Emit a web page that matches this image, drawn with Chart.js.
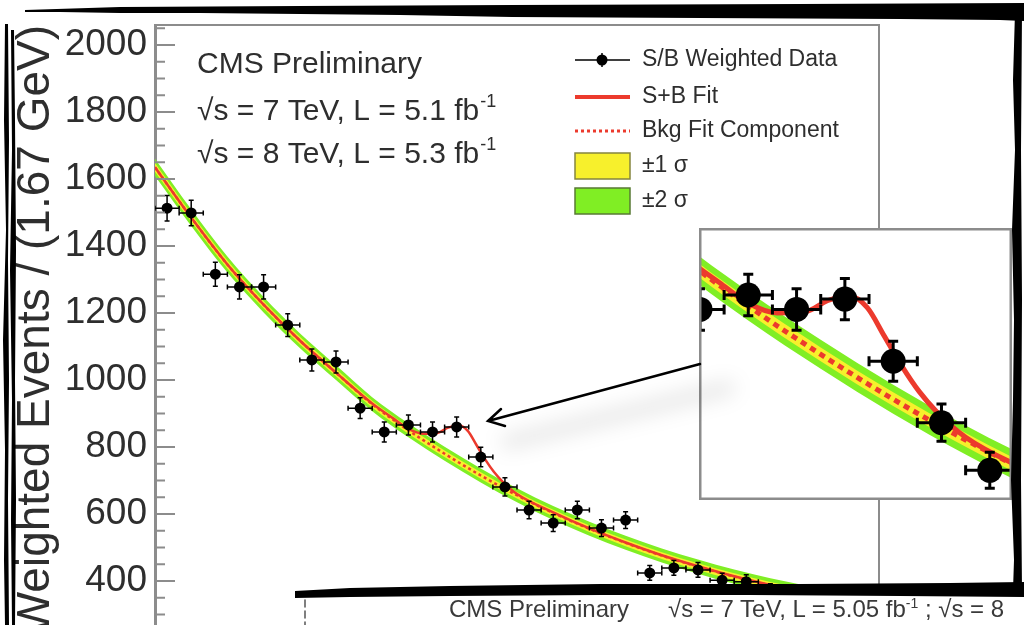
<!DOCTYPE html>
<html>
<head>
<meta charset="utf-8">
<script src="https://cdn.jsdelivr.net/npm/chart.js@4.4.1/dist/chart.umd.min.js"></script>
<style>
  html, body { margin: 0; padding: 0; background: #fff; }
  body { width: 1024px; height: 625px; overflow: hidden; position: relative; font-family: "Liberation Sans", Arial, sans-serif; }
  canvas { position: absolute; }
  #mainChart { left: 0; top: 0; }
  #insetChart { left: 699px; top: 228px; }
  #decor { left: 0; top: 0; }
  .footer { position: absolute; top: 597px; line-height: 24px; font-size: 24px; color: #3a3a3a; white-space: nowrap; }
  .footer sup { font-size: 14px; line-height: 0; }
</style>
</head>
<body>
<canvas id="mainChart" width="1024" height="680"></canvas>
<canvas id="insetChart" width="313" height="272"></canvas>
<canvas id="decor" width="1024" height="625"></canvas>
<div class="footer" style="left:449px">CMS Preliminary</div>
<div class="footer" style="left:668px">√s = 7 TeV, L = 5.05 fb<sup>-1</sup> ; √s = 8</div>

<script>
// diphoton mass bins, 5/3 GeV wide, starting at 105 GeV
const massMin = 105;
const massMax = 155;
const binWidth = 5 / 3;
const weightedCounts = [1513, 1499, 1316, 1278, 1278, 1164, 1060, 1054, 916, 845, 866, 845, 860, 770, 681, 612, 573, 612, 558, 582, 424, 439, 433, 402, 398, 372, 360, 352, 338, 320];
const countErrors = [38, 38, 36, 36, 36, 34, 33, 33, 31, 30, 30, 30, 30, 29, 27, 26, 25, 26, 25, 25, 22, 22, 22, 21, 21, 20, 20, 20, 19, 19];

// background fit and its uncertainty bands
const fitMass = [105, 107.5, 110, 112.5, 115, 117.5, 120, 122.5, 125, 127.5, 130, 132.5, 135, 137.5, 140, 142.5, 145, 147.5, 150, 152.5, 155];
const bkgFit = [1635, 1485, 1345, 1225, 1118, 1022, 928, 850, 780, 715, 656, 603, 556, 514, 476, 443, 413, 387, 364, 344, 326];
const sigma1 = [13, 12, 12, 11, 11, 11, 10, 10, 10, 10, 10, 10, 10, 10, 10, 10, 10, 10, 11, 11, 11];
const sigma2 = [26, 25, 24, 23, 22, 22, 21, 21, 21, 21, 21, 21, 21, 21, 21, 21, 21, 21, 22, 22, 23];

// signal + background fit
const sbMass = [105, 107.5, 110, 112.5, 115, 117.5, 120, 121.5, 122.5, 123.5, 124.5, 125.25, 126, 126.6, 127.2, 127.8, 128.4, 129, 130, 132.5, 135, 137.5, 140, 142.5, 145, 147.5, 150, 152.5, 155];
const sbFit = [1635, 1485, 1345, 1225, 1118, 1022, 930, 884, 854, 840, 842, 858, 864, 848, 806, 763, 726, 697, 660, 605, 557, 515, 477, 444, 414, 388, 365, 345, 327];

const yTicks = [400, 600, 800, 1000, 1200, 1400, 1600, 1800, 2000];

const FONT = '"Liberation Sans", Arial, Helvetica, sans-serif';
const TEXT = "#2e2e2e";
const FRAME = "#8c8c8c";
const RED = "#ec3a2d";
const YELLOW = "#f7f02c";
const GREEN = "#80ee24";

Chart.defaults.font.family = FONT;

const binCenters = weightedCounts.map((_, i) => massMin + (i + 0.5) * binWidth);
const curve = (mass, vals) => mass.map((x, i) => ({ x, y: vals[i] }));
const bandEdge = (half, sign) => fitMass.map((x, i) => ({ x, y: bkgFit[i] + sign * half[i] }));

const buildDatasets = (s) => [
  { label: "±2 σ", data: bandEdge(sigma2, 1), order: 6, borderWidth: 0, pointRadius: 0, backgroundColor: GREEN, fill: "+1", cubicInterpolationMode: "monotone" },
  { data: bandEdge(sigma2, -1), order: 5, borderWidth: 0, pointRadius: 0, fill: false, cubicInterpolationMode: "monotone" },
  { label: "±1 σ", data: bandEdge(sigma1, 1), order: 4, borderWidth: 0, pointRadius: 0, backgroundColor: YELLOW, fill: "+1", cubicInterpolationMode: "monotone" },
  { data: bandEdge(sigma1, -1), order: 3, borderWidth: 0, pointRadius: 0, fill: false, cubicInterpolationMode: "monotone" },
  { label: "Bkg Fit Component", data: curve(fitMass, bkgFit), order: 2, borderColor: RED, borderWidth: s.dotWidth, borderDash: s.dash, pointRadius: 0, fill: false, cubicInterpolationMode: "monotone" },
  { label: "S+B Fit", data: curve(sbMass, sbFit), order: 1, borderColor: RED, borderWidth: s.lineWidth, pointRadius: 0, fill: false, cubicInterpolationMode: "monotone" },
  { label: "S/B Weighted Data", data: curve(binCenters, weightedCounts), order: 0, showLine: false, pointRadius: s.radius, pointBackgroundColor: "#000", pointBorderWidth: 0, errorBars: true },
];

// horizontal (bin width) and vertical (stat. error) bars under the data markers
const errorBars = {
  id: "errorBars",
  beforeDatasetDraw(chart, args, opts) {
    if (!chart.data.datasets[args.index].errorBars) return;
    const { ctx, chartArea, scales: { x, y } } = chart;
    const c = opts.cap;
    ctx.save();
    ctx.beginPath();
    ctx.rect(chartArea.left, chartArea.top, chartArea.width, chartArea.height);
    ctx.clip();
    ctx.strokeStyle = "#000";
    ctx.lineWidth = opts.lineWidth;
    weightedCounts.forEach((v, i) => {
      const m = binCenters[i];
      const px = x.getPixelForValue(m);
      const py = y.getPixelForValue(v);
      const x0 = x.getPixelForValue(m - binWidth / 2);
      const x1 = x.getPixelForValue(m + binWidth / 2);
      const y0 = y.getPixelForValue(v + countErrors[i]);
      const y1 = y.getPixelForValue(v - countErrors[i]);
      ctx.beginPath();
      ctx.moveTo(x0, py); ctx.lineTo(x1, py);
      ctx.moveTo(px, y0); ctx.lineTo(px, y1);
      ctx.moveTo(x0, py - c); ctx.lineTo(x0, py + c);
      ctx.moveTo(x1, py - c); ctx.lineTo(x1, py + c);
      ctx.moveTo(px - c, y0); ctx.lineTo(px + c, y0);
      ctx.moveTo(px - c, y1); ctx.lineTo(px + c, y1);
      ctx.stroke();
    });
    ctx.restore();
  },
};

const drawText = (ctx, text, x, y, size, sup) => {
  ctx.font = `${size}px ${FONT}`;
  ctx.fillText(text, x, y);
  if (sup) {
    const w = ctx.measureText(text).width;
    ctx.font = `${Math.round(size * 0.6)}px ${FONT}`;
    ctx.fillText(sup, x + w + 1, y - size * 0.42);
  }
};

// frame, inward ticks, labels and legend of the main pad
const mainPad = {
  id: "mainPad",
  afterDraw(chart) {
    const { ctx, chartArea: a, scales: { y } } = chart;
    ctx.save();
    ctx.strokeStyle = FRAME;
    ctx.lineWidth = 2;
    ctx.beginPath();
    ctx.moveTo(a.left, a.top); ctx.lineTo(a.right, a.top); ctx.lineTo(a.right, a.bottom);
    ctx.stroke();

    ctx.beginPath();
    for (let v = y.min; v <= y.max; v += 50) {
      const py = y.getPixelForValue(v);
      const len = v % 200 === 0 ? 20 : 10;
      ctx.moveTo(a.left, py); ctx.lineTo(a.left + len, py);
    }
    ctx.stroke();

    ctx.fillStyle = TEXT;
    ctx.textBaseline = "alphabetic";
    drawText(ctx, "CMS Preliminary", 197, 73, 30);
    drawText(ctx, "√s = 7 TeV, L = 5.1 fb", 197, 120, 30, "-1");
    drawText(ctx, "√s = 8 TeV, L = 5.3 fb", 197, 163, 30, "-1");

    // legend
    const ds = chart.data.datasets;
    const rows = [
      { label: ds[6].label, y: 60 },
      { label: ds[5].label, y: 97 },
      { label: ds[4].label, y: 131 },
      { label: ds[2].label, y: 166 },
      { label: ds[0].label, y: 201 },
    ];
    const x0 = 575, x1 = 630;
    ctx.strokeStyle = "#000";
    ctx.lineWidth = 1.5;
    ctx.beginPath();
    ctx.moveTo(x0, 60); ctx.lineTo(x1, 60);
    ctx.moveTo(602, 53); ctx.lineTo(602, 67);
    ctx.stroke();
    ctx.fillStyle = "#000";
    ctx.beginPath(); ctx.arc(602, 60, 5.5, 0, Math.PI * 2); ctx.fill();

    ctx.strokeStyle = RED;
    ctx.lineWidth = 4;
    ctx.beginPath(); ctx.moveTo(x0, 97); ctx.lineTo(x1, 97); ctx.stroke();
    ctx.lineWidth = 3;
    ctx.setLineDash([3, 3]);
    ctx.beginPath(); ctx.moveTo(x0, 131); ctx.lineTo(x1, 131); ctx.stroke();
    ctx.setLineDash([]);

    ctx.lineWidth = 1.5;
    ctx.fillStyle = YELLOW; ctx.strokeStyle = "#85853f";
    ctx.fillRect(x0, 153, x1 - x0, 26); ctx.strokeRect(x0, 153, x1 - x0, 26);
    ctx.fillStyle = GREEN; ctx.strokeStyle = "#587a34";
    ctx.fillRect(x0, 188, x1 - x0, 26); ctx.strokeRect(x0, 188, x1 - x0, 26);

    ctx.fillStyle = TEXT;
    ctx.textBaseline = "middle";
    ctx.font = `23px ${FONT}`;
    rows.forEach((r) => ctx.fillText(r.label, 642, r.y));
    ctx.restore();
  },
};

new Chart(document.getElementById("mainChart"), {
  type: "line",
  data: { datasets: buildDatasets({ lineWidth: 2.5, dotWidth: 2.5, dash: [3, 3], radius: 5.5 }) },
  options: {
    responsive: false,
    animation: false,
    devicePixelRatio: 1,
    events: [],
    layout: { autoPadding: false, padding: { top: 25, right: 145, bottom: 32, left: 0 } },
    plugins: {
      legend: { display: false },
      tooltip: { enabled: false },
      errorBars: { lineWidth: 1.5, cap: 2.5 },
    },
    scales: {
      x: { type: "linear", min: massMin, max: massMax, display: false },
      y: {
        min: 200,
        max: 2060,
        afterBuildTicks: (scale) => { scale.ticks = yTicks.map((value) => ({ value })); },
        afterFit: (scale) => { scale.width = 155; scale.paddingTop = 0; scale.paddingBottom = 0; },
        ticks: { font: { size: 37 }, color: TEXT, padding: 8, callback: (v) => String(v) },
        grid: { drawOnChartArea: false, drawTicks: false },
        border: { color: FRAME, width: 3 },
        title: {
          display: true,
          text: "Weighted Events / (1.67 GeV)",
          align: "end",
          color: TEXT,
          font: { size: 46 },
          padding: { top: 9, bottom: 0 },
        },
      },
    },
  },
  plugins: [errorBars, mainPad],
});

// zoomed view of the excess region
const insetPad = {
  id: "insetPad",
  beforeDraw(chart) {
    const { ctx, width, height } = chart;
    ctx.save();
    ctx.fillStyle = "#fff";
    ctx.fillRect(0, 0, width, height);
    ctx.restore();
  },
  afterDraw(chart) {
    const { ctx, width, height } = chart;
    ctx.save();
    ctx.strokeStyle = FRAME;
    ctx.lineWidth = 2.5;
    ctx.strokeRect(1.25, 1.25, width - 2.5, height - 2.5);
    ctx.restore();
  },
};

new Chart(document.getElementById("insetChart"), {
  type: "line",
  data: { datasets: buildDatasets({ lineWidth: 5, dotWidth: 5, dash: [6, 5], radius: 12.5 }) },
  options: {
    responsive: false,
    animation: false,
    devicePixelRatio: 1,
    events: [],
    layout: { autoPadding: false, padding: 0 },
    plugins: {
      legend: { display: false },
      tooltip: { enabled: false },
      errorBars: { lineWidth: 3, cap: 5 },
    },
    scales: {
      x: { type: "linear", min: 120.8, max: 131.6, display: false },
      y: { min: 569, max: 963, display: false },
    },
  },
  plugins: [errorBars, insetPad],
});

// arrow and the torn paper edges around the cut-out
const deco = document.getElementById("decor").getContext("2d");
const fillShape = (pts) => {
  deco.beginPath();
  pts.forEach(([x, y], i) => (i ? deco.lineTo(x, y) : deco.moveTo(x, y)));
  deco.closePath();
  deco.fill();
};

deco.save();
deco.filter = "blur(10px)";
deco.strokeStyle = "rgba(0,0,0,0.10)";
deco.lineWidth = 14;
deco.lineCap = "round";
deco.beginPath(); deco.moveTo(508, 442); deco.lineTo(728, 388); deco.stroke();
deco.restore();

deco.strokeStyle = "#000";
deco.lineWidth = 2.5;
deco.lineCap = "round";
deco.beginPath();
deco.moveTo(700, 364); deco.lineTo(488, 421);
deco.moveTo(501, 409); deco.lineTo(488, 421); deco.lineTo(505, 426);
deco.stroke();

deco.fillStyle = "#fff";
deco.fillRect(300, 592, 724, 33);

deco.fillStyle = "#000";
fillShape([[25, 10], [120, 7], [300, 6], [512, 5], [800, 4], [1024, 3], [1024, 21], [1000, 20], [900, 19], [700, 18], [512, 17], [400, 15], [300, 14], [200, 13], [120, 13], [60, 12], [25, 12]]);
fillShape([[1015, 12], [1013, 80], [1015, 150], [1012, 230], [1014, 320], [1013, 400], [1011, 480], [1014, 560], [1013, 590], [1022, 590], [1021, 480], [1022, 300], [1021, 150], [1022, 12]]);
fillShape([[5, 24], [4, 120], [6, 230], [3, 340], [5, 450], [4, 560], [5, 625], [9, 625], [8, 500], [9, 380], [8, 260], [9, 140], [8, 24]]);
fillShape([[11, 30], [12, 150], [10, 270], [12, 400], [11, 520], [12, 625], [15, 625], [16, 500], [15, 380], [16, 250], [15, 120], [14, 30]]);
fillShape([[295, 591], [350, 588], [450, 586], [600, 584], [800, 584], [950, 583], [1024, 582], [1024, 597], [900, 596], [750, 595], [600, 595], [450, 596], [350, 597], [295, 598]]);

deco.strokeStyle = "#555";
deco.lineWidth = 1.5;
deco.setLineDash([7, 4]);
deco.beginPath(); deco.moveTo(305, 600); deco.lineTo(305, 625); deco.stroke();
</script>
</body>
</html>
